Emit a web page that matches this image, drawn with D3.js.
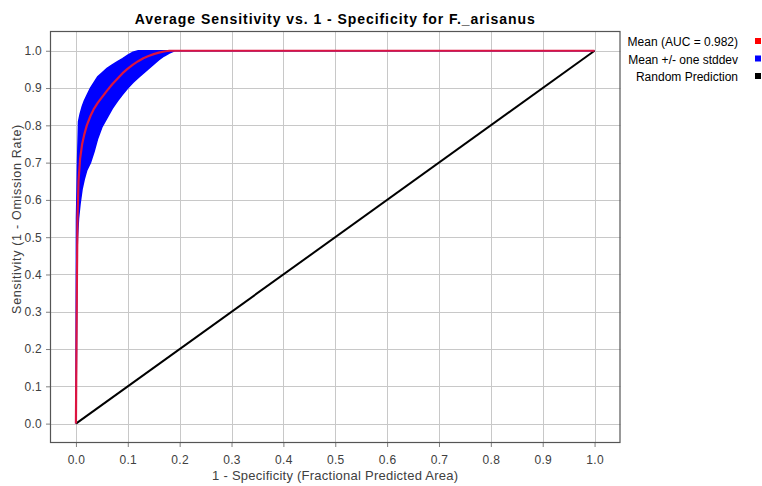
<!DOCTYPE html>
<html>
<head>
<meta charset="utf-8">
<script src="https://cdn.jsdelivr.net/npm/d3@7"></script>
<style>
  html, body { margin: 0; padding: 0; background: #ffffff; }
  svg { display: block; font-family: "Liberation Sans", Arial, sans-serif; }
</style>
</head>
<body>
<svg id="chart" width="762" height="486"></svg>
<script>
// ROC curve, averaged over replicate runs
const fpr = [0, 0.001, 0.002, 0.003, 0.005, 0.008, 0.012, 0.016, 0.021, 0.028, 0.035, 0.042, 0.05,
             0.06, 0.07, 0.08, 0.09, 0.1, 0.11, 0.12, 0.13, 0.14, 0.15, 0.16, 0.17, 0.18, 0.19, 0.2, 1.0];
const meanSens = [0, 0.2, 0.4, 0.55, 0.65, 0.71, 0.75, 0.775, 0.8, 0.825, 0.845, 0.86, 0.875,
                  0.893, 0.91, 0.925, 0.94, 0.952, 0.963, 0.972, 0.98, 0.986, 0.991, 0.995, 0.998, 1.0, 1.0, 1.0, 1.0];
const upperSens = [0, 0.55, 0.62, 0.7, 0.81, 0.83, 0.85, 0.865, 0.88, 0.9, 0.915, 0.93, 0.94,
                   0.953, 0.962, 0.971, 0.979, 0.988, 0.996, 1.0, 1.0, 1.0, 1.0, 1.0, 1.0, 1.0, 1.0, 1.0, 1.0];
const lowerSens = [0, 0.2, 0.45, 0.5, 0.55, 0.59, 0.63, 0.655, 0.68, 0.7, 0.73, 0.765, 0.795,
                   0.82, 0.845, 0.865, 0.883, 0.9, 0.915, 0.928, 0.94, 0.952, 0.964, 0.976, 0.986, 0.994, 1.0, 1.0, 1.0];
const randomLine = [[0, 0], [1, 1]];

const xTicks = [0, 0.1, 0.2, 0.3, 0.4, 0.5, 0.6, 0.7, 0.8, 0.9, 1.0];
const yTicks = [0, 0.1, 0.2, 0.3, 0.4, 0.5, 0.6, 0.7, 0.8, 0.9, 1.0];

const legendItems = ["Mean (AUC = 0.982)", "Mean +/- one stddev", "Random Prediction"];
const legendColors = ["#ff0000", "#0000ff", "#000000"];

const titleText = "Average Sensitivity vs. 1 - Specificity for F._arisanus";
const xTitle = "1 - Specificity (Fractional Predicted Area)";
const yTitle = "Sensitivity (1 - Omission Rate)";

const svg = d3.select("#chart");
const plot = { left: 50, right: 620.5, top: 31, bottom: 443 };

const x = d3.scaleLinear().domain([-0.05, 1.05]).range([plot.left, plot.right]);
const y = d3.scaleLinear().domain([-0.052, 1.053]).range([plot.bottom, plot.top]);

// plot background
svg.append("rect")
  .attr("x", plot.left).attr("y", plot.top)
  .attr("width", plot.right - plot.left).attr("height", plot.bottom - plot.top)
  .attr("fill", "#ffffff");

// gridlines
const grid = svg.append("g").attr("stroke", "#c8c8c8").attr("stroke-width", 1);
grid.selectAll("line.gx").data(xTicks).join("line")
  .attr("x1", d => Math.round(x(d)) + 0.5).attr("x2", d => Math.round(x(d)) + 0.5)
  .attr("y1", plot.top).attr("y2", plot.bottom);
grid.selectAll("line.gy").data(yTicks).join("line")
  .attr("y1", d => Math.round(y(d)) + 0.5).attr("y2", d => Math.round(y(d)) + 0.5)
  .attr("x1", plot.left).attr("x2", plot.right);

// axes
const xAxis = d3.axisBottom(x).tickValues(xTicks).tickFormat(d3.format(".1f")).tickSize(4).tickPadding(8);
const yAxis = d3.axisLeft(y).tickValues(yTicks).tickFormat(d3.format(".1f")).tickSize(4).tickPadding(4);

const gx = svg.append("g").attr("transform", `translate(0,${plot.bottom})`).call(xAxis);
const gy = svg.append("g").attr("transform", `translate(${plot.left},0)`).call(yAxis);
[gx, gy].forEach(g => {
  g.select(".domain").remove();
  g.selectAll(".tick line").attr("stroke", "#808080");
  g.selectAll(".tick text").attr("fill", "#404040").style("font-size", "12px")
    .style("letter-spacing", "0.3px")
    .style("font-family", "'Liberation Sans', Arial, sans-serif");
});

svg.append("clipPath").attr("id", "plotclip").append("rect")
  .attr("x", plot.left).attr("y", plot.top)
  .attr("width", plot.right - plot.left).attr("height", plot.bottom - plot.top);

const marks = svg.append("g").attr("clip-path", "url(#plotclip)");

// +/- one stddev band
const band = fpr.map((f, i) => ({ f, lo: lowerSens[i], hi: upperSens[i] }));
marks.append("path")
  .datum(band)
  .attr("fill", "#0000ff")
  .attr("stroke", "#0000ff")
  .attr("stroke-width", 1.5)
  .attr("d", d3.area().x(d => x(d.f)).y0(d => y(d.lo)).y1(d => y(d.hi)));

// random prediction
marks.append("path")
  .datum(randomLine)
  .attr("fill", "none")
  .attr("stroke", "#000000")
  .attr("stroke-width", 2)
  .attr("d", d3.line().x(d => x(d[0])).y(d => y(d[1])));

// mean curve
marks.append("path")
  .datum(fpr.map((f, i) => [f, meanSens[i]]))
  .attr("fill", "none")
  .attr("stroke", "#dc1440")
  .attr("stroke-width", 2.2)
  .attr("stroke-linejoin", "round")
  .attr("d", d3.line().x(d => x(d[0])).y(d => y(d[1])));

// plot border
svg.append("rect")
  .attr("x", plot.left + 0.5).attr("y", plot.top + 0.5)
  .attr("width", plot.right - plot.left - 1).attr("height", plot.bottom - plot.top - 1)
  .attr("fill", "none").attr("stroke", "#555555").attr("stroke-width", 1.2);

// title
svg.append("text")
  .attr("x", (plot.left + plot.right) / 2).attr("y", 24)
  .attr("text-anchor", "middle")
  .style("font-size", "14px").style("font-weight", "bold")
  .style("letter-spacing", "0.95px").attr("fill", "#000")
  .text(titleText);

// axis titles
svg.append("text")
  .attr("x", (plot.left + plot.right) / 2).attr("y", 480)
  .attr("text-anchor", "middle")
  .style("font-size", "13px").style("letter-spacing", "0.25px").attr("fill", "#404040")
  .text(xTitle);

svg.append("text")
  .attr("transform", `translate(21,${(plot.top + plot.bottom) / 2 - 18}) rotate(-90)`)
  .attr("text-anchor", "middle")
  .style("font-size", "12.5px").style("letter-spacing", "0.7px").attr("fill", "#404040")
  .text(yTitle);

// legend
const legend = svg.append("g");
legendItems.forEach((label, i) => {
  const ly = 46 + i * 17.5;
  legend.append("text")
    .attr("x", 738).attr("y", ly)
    .attr("text-anchor", "end")
    .style("font-size", "12px").attr("fill", "#000")
    .text(label);
  legend.append("rect")
    .attr("x", 755).attr("y", ly - 8)
    .attr("width", 6).attr("height", 6)
    .attr("fill", legendColors[i]);
});
</script>
</body>
</html>
